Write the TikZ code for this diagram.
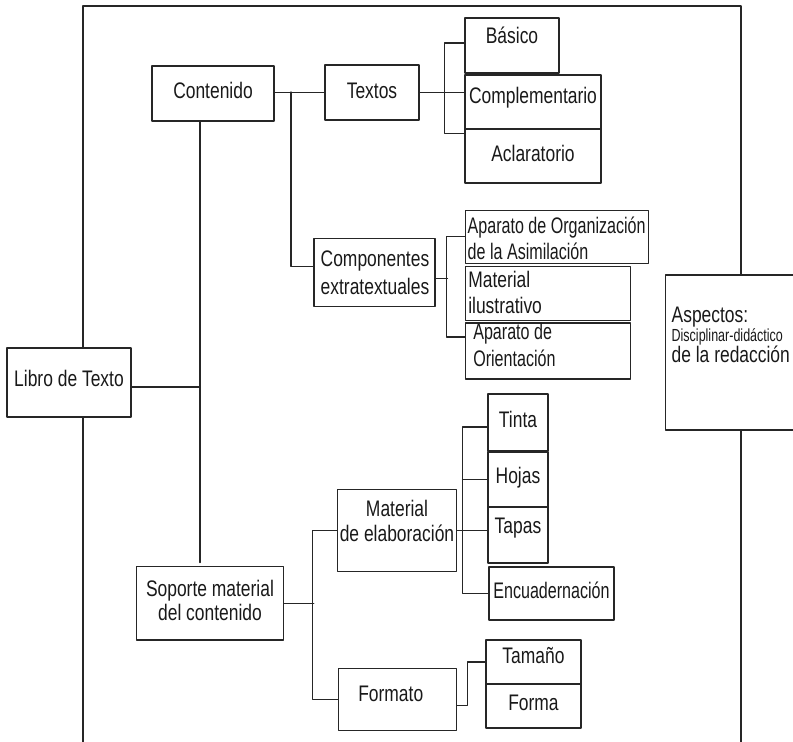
\documentclass[tikz,border=0pt]{standalone}
\usepackage{fontspec}
\setmainfont{Liberation Sans}[FakeStretch=0.775]
\newfontfamily\tightfont{Liberation Sans}[FakeStretch=0.715]
\begin{document}
\begin{tikzpicture}[x=1pt, y=-1pt, line join=round, line cap=round,
	box/.style={draw=black!85, line width=1.1pt, inner xsep=0pt, inner ysep=0pt, text=black!90, text height=15pt, font=\fontsize{22.5}{26}\selectfont},
	lbox/.style={box, align=flush left},
	cbox/.style={box, align=flush center},
	link/.style={draw=black!85, line width=1.1pt}]
			\useasboundingbox (0,0) rectangle (793,742);
			\path 
			(83,6) coordinate (tl)
			(741,6) coordinate (tr)
			(83,742) coordinate (bl)
			(741,742) coordinate (br)
			(200,387) coordinate (j1)
			(291,92) coordinate (j2);
			% nivel 1 y 2
			\node[box, minimum width=124pt, minimum height=69pt, text depth=8pt] (libro) at (69,382.5) {Libro de Texto};
			\node[box, minimum width=122pt, minimum height=55pt, text depth=5pt] (cont) at (213,93.5) {Contenido};
			\node[cbox, text width=146.6pt, minimum height=73.3pt, text depth=28pt, font=\fontsize{22.5}{24}\selectfont] (soporte) at (210,603.3) {Soporte material\\del contenido};
			\node[lbox, text width=139.3pt, inner xsep=6pt, minimum height=155pt, text depth=76pt, font=\fontsize{22.5}{19.5}\selectfont] (asp) at (741.3,352.5) {Aspectos:\\{\tightfont\fontsize{17.5}{19.5}\selectfont Disciplinar-didáctico}\\de la redacción};
			% contenido
			\node[box, minimum width=94pt, minimum height=55pt, text depth=4pt] (textos) at (372,92.5) {Textos};
			\node[lbox, text width=107.6pt, inner xsep=6.7pt, minimum height=68.4pt, text depth=26.6pt, font=\fontsize{22.5}{28}\selectfont] (comp) at (374.5,272.5) {Componentes\\extratextuales};
			\node[box, minimum width=94pt, minimum height=55pt, text depth=19pt] (basico) at (512,45.5) {Básico};
			\node[box, minimum width=136pt, minimum height=54pt, text depth=13pt] (compl) at (533,102) {Complementario};
			\node[box, minimum width=136pt, minimum height=54pt, text depth=4pt] (aclar) at (533,156) {Aclaratorio};
			\node[lbox, text width=178.6pt, inner xsep=2pt, minimum height=53.3pt, text depth=21.8pt, font=\tightfont\fontsize{22.5}{26}\selectfont] (aporg) at (557,236.7) {\mbox{Aparato de Organización}\\de la Asimilación};
			\node[lbox, text width=159.8pt, inner xsep=2.6pt, minimum height=54pt, text depth=27.8pt, font=\fontsize{22.5}{26}\selectfont] (matil) at (548.2,293.7) {Material\\ilustrativo};
			\node[lbox, text width=149.8pt, inner xsep=7.6pt, minimum height=56pt, text depth=38pt, font=\tightfont\fontsize{22.5}{26.7}\selectfont] (apor) at (548.2,351) {Aparato de\\Orientación};
			% soporte material
			\node[cbox, text width=119.4pt, minimum height=81.7pt, text depth=42pt, font=\fontsize{22.5}{25}\selectfont] (matel) at (397,530.2) {Material\\de elaboración};
			\node[lbox, text width=78.4pt, inner xsep=20pt, minimum height=61.7pt, text depth=11pt] (formato) at (397.5,699.2) {Formato};
			\node[box, minimum width=60pt, minimum height=57pt, text depth=5.4pt] (tinta) at (518,422.5) {Tinta};
			\node[box, minimum width=60pt, minimum height=55pt, text depth=8pt] (hojas) at (518,479.5) {Hojas};
			\node[box, minimum width=60pt, minimum height=56pt, text depth=19pt] (tapas) at (518,535) {Tapas};
			\node[box, minimum width=125pt, minimum height=53pt, text depth=6pt, font=\tightfont\fontsize{22.5}{26}\selectfont] (encuad) at (551.5,593.5) {Encuadernación};
			\node[box, minimum width=95pt, minimum height=44pt, text depth=13pt] (tamano) at (533.5,662) {Tamaño};
			\node[box, minimum width=95pt, minimum height=44pt, text depth=7pt] (forma) at (533.5,706) {Forma};
			% marco
			\draw[link] (libro.north -| tl) -- (tl) -- (tr) -- (asp.north -| tr);
			\draw[link] (libro.south -| bl) -- (bl);
			\draw[link] (asp.south -| br) -- (br);
			% conexiones
			\draw[link] (cont.south -| j1) -- ([yshift=3.5pt]soporte.north -| j1);
			\draw[link] (libro.east |- j1) -- (j1);
			\draw[link] (cont.east |- textos.west) -- (textos.west);
			\draw[link] (j2) |- ([yshift=6pt]comp.west);
			\draw[link] (textos.east) -- (textos.east -| compl.west);
			\draw[link] ([yshift=2.5pt]basico.west) -- ++(-20,0) |- ([yshift=-5pt]aclar.north west);
			\draw[link] ([yshift=-6pt]comp.east) -- ++(12,0);
			\draw[link] (aporg.west) -- ++(-19,0) |- ([yshift=14pt]apor.west);
			\draw[link] (soporte.east) -- ++(30,0);
			\draw[link] (matel.west) -- ++(-24,0) |- (formato.west);
			\draw[link] (matel.east) -- (matel.east -| tapas.west);
			\draw[link] ([yshift=-4.5pt]tinta.west) -- ++(-25,0) |- (encuad.west);
			\draw[link] (hojas.west) -- ++(-25,0);
			\draw[link] (tamano.west) -- ++(-18,0) |- ([yshift=-6pt]formato.east);
	\end{tikzpicture}
\end{document}
